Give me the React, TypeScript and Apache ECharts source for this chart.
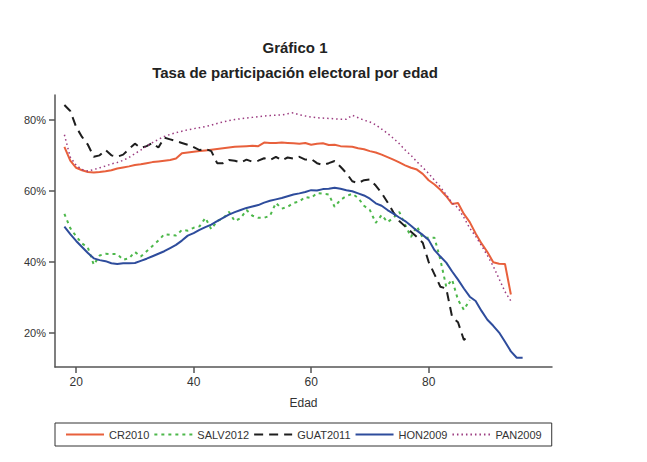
import React, { useEffect, useRef } from 'react';
import * as echarts from 'echarts';

// tasas por edad, desde los 18 años (un valor por año)
const START_AGE = 18;

const cr2010 = [
  72.4, 68.5, 66.5, 65.8, 65.3, 65.2, 65.3, 65.5, 65.8, 66.3,
  66.6, 66.9, 67.3, 67.5, 67.8, 68.1, 68.3, 68.5, 68.7, 69.1,
  70.6, 70.8, 71.0, 71.2, 71.4, 71.6, 71.8, 72.0, 72.2, 72.4,
  72.5, 72.6, 72.7, 72.6, 73.6, 73.5, 73.5, 73.6, 73.5, 73.4,
  73.3, 73.5, 73.0, 73.3, 73.4, 72.9, 73.0, 72.6, 72.5, 72.4,
  72.0, 71.7, 71.2, 70.8, 70.2, 69.5, 68.8, 68.0, 67.2, 66.5,
  66.0, 64.8, 63.0, 61.8, 60.3, 58.5, 56.3, 56.6, 53.5, 51.2,
  48.0, 45.2, 42.8, 39.9, 39.5, 39.4, 30.8,
];

const salv2012 = [
  53.5, 49.5, 47.2, 45.2, 44.0, 39.2, 41.8, 42.3, 42.2, 42.2,
  40.6, 41.0, 42.8, 41.5, 43.0, 44.5, 46.0, 47.8, 47.6, 47.4,
  49.0, 48.8, 49.6, 50.0, 52.4, 49.2, 51.5, 52.2, 54.1, 51.5,
  52.3, 54.6, 53.0, 52.4, 52.4, 53.0, 56.6, 55.0, 55.5, 56.6,
  57.0, 58.3, 58.0, 59.4, 59.2, 59.0, 55.5, 57.5, 58.5, 59.2,
  58.0, 55.8, 54.6, 51.0, 53.2, 51.2, 52.4, 54.1, 50.5, 47.0,
  50.0, 46.8, 46.8, 46.8, 40.6, 33.0, 35.0, 29.3, 26.5, 29.3,
];

const guat2011 = [
  84.2, 82.5, 78.0, 75.2, 73.0, 69.6, 70.0, 71.5, 70.0, 69.6,
  70.2, 71.8, 73.3, 72.1, 72.6, 73.5, 72.2, 75.0, 74.5, 74.0,
  73.5, 73.0, 72.3, 71.5, 71.8, 71.2, 67.8, 67.8, 68.7, 68.5,
  68.0, 68.8, 68.2, 68.5, 69.2, 68.7, 69.6, 68.6, 69.4, 69.1,
  69.6, 68.8, 69.0, 67.8, 67.3, 67.8, 68.4, 66.8, 65.0, 62.7,
  62.2, 63.0, 63.2, 61.5, 59.4, 56.8, 54.0, 51.5, 50.0, 48.5,
  47.0, 45.4, 40.0, 36.5, 33.0, 32.5, 24.5, 23.0, 18.0, 19.4,
];

const hon2009 = [
  49.9, 47.8, 45.9, 44.2, 42.5, 41.0, 40.5, 40.2, 39.6, 39.4,
  39.6, 39.6, 39.7, 40.3, 40.9, 41.6, 42.3, 43.0, 43.9, 44.8,
  46.0, 47.4, 48.1, 49.0, 49.8, 50.5, 51.5, 52.4, 53.3, 54.0,
  54.6, 55.2, 55.6, 56.0, 56.7, 57.2, 57.6, 58.0, 58.5, 59.0,
  59.3, 59.7, 60.2, 60.1, 60.5, 60.6, 60.9, 60.6, 60.2, 59.9,
  59.3, 58.7, 57.8, 56.5, 55.8, 54.6, 53.6, 52.5, 51.5, 50.2,
  48.8, 47.6, 46.2, 43.3, 41.5, 39.8, 37.3, 35.0, 32.5, 30.2,
  29.0, 26.2, 23.7, 22.0, 20.1, 17.5, 14.8, 13.0, 13.0,
];

const pan2009 = [
  75.8, 69.5, 67.2, 66.0, 65.6, 66.0, 66.5, 67.0, 67.6, 68.0,
  68.6, 69.4, 70.5, 71.5, 72.6, 73.6, 74.5, 75.3, 75.9, 76.4,
  76.8, 77.2, 77.5, 77.8, 78.1, 78.5, 79.0, 79.4, 79.8, 80.1,
  80.3, 80.5, 80.7, 80.9, 81.1, 81.2, 81.3, 81.4, 81.7, 82.0,
  81.4, 81.1, 80.8, 80.6, 80.5, 80.4, 80.3, 80.2, 80.2, 81.3,
  80.6, 79.9, 79.4, 78.6, 77.4, 76.2, 74.8, 73.3, 71.5, 70.0,
  68.2, 66.6, 64.9, 63.0, 61.1, 58.9, 56.6, 55.2, 52.5, 49.5,
  47.2, 44.6, 41.8, 38.8, 35.2, 31.6, 29.0,
];

const xTicks = [20, 40, 60, 80];
const yTicks = [20, 40, 60, 80];

const toPoints = (values: number[]) => values.map((v, i) => [START_AGE + i, v]);

const font = 'Liberation Sans';

const App: React.FC = () => {
  const chartRef = useRef<HTMLDivElement>(null);

  useEffect(() => {
    if (!chartRef.current) return undefined;
    const chart = echarts.init(chartRef.current, undefined, { renderer: 'svg' });

    const line = (name: string, data: number[], color: string, type: any, width: number) => ({
      name,
      type: 'line',
      data: toPoints(data),
      showSymbol: false,
      symbol: 'none',
      lineStyle: { color, type, width },
      itemStyle: { color },
    });

    chart.setOption({
      animation: false,
      textStyle: { fontFamily: font },
      title: [
        {
          text: 'Gráfico 1',
          left: 290,
          top: 35,
          textAlign: 'center',
          textStyle: { fontFamily: font, fontSize: 15, fontWeight: 'bold', color: '#222' },
        },
        {
          text: 'Tasa de participación electoral por edad',
          left: 290,
          top: 60,
          textAlign: 'center',
          textStyle: { fontFamily: font, fontSize: 15, fontWeight: 'bold', color: '#222' },
        },
      ],
      grid: { left: 55, right: 95, top: 95, bottom: 95 },
      xAxis: {
        type: 'value',
        min: 16.4,
        max: 101,
        name: 'Edad',
        nameLocation: 'middle',
        nameGap: 30,
        nameTextStyle: { fontFamily: font, fontSize: 12, color: '#333' },
        splitLine: { show: false },
        axisLine: { lineStyle: { color: '#555', width: 1.5 } },
        axisTick: { customValues: xTicks, length: 6, lineStyle: { color: '#555', width: 1.5 } },
        axisLabel: { customValues: xTicks, margin: 9, fontSize: 12, color: '#333' },
      },
      yAxis: {
        type: 'value',
        min: 10.4,
        max: 87,
        splitLine: { show: false },
        axisLine: { show: true, lineStyle: { color: '#555', width: 1.5 } },
        axisTick: { show: true, customValues: yTicks, length: 6, lineStyle: { color: '#555', width: 1.5 } },
        axisLabel: { customValues: yTicks, margin: 9, fontSize: 11, color: '#333', formatter: '{value}%' },
      },
      legend: {
        left: 55,
        top: 423,
        padding: [6, 10],
        itemGap: 4,
        itemWidth: 38,
        itemHeight: 10,
        borderColor: '#333',
        borderWidth: 1,
        itemStyle: { opacity: 0 },
        textStyle: { fontFamily: font, fontSize: 11, color: '#333' },
        data: ['CR2010', 'SALV2012', 'GUAT2011', 'HON2009', 'PAN2009'],
      },
      series: [
        line('CR2010', cr2010, '#E8603C', 'solid', 2),
        line('SALV2012', salv2012, '#4DB84B', [3, 4], 2),
        line('GUAT2011', guat2011, '#1E1E1E', [9, 6], 2),
        line('HON2009', hon2009, '#2E4C9C', 'solid', 2),
        line('PAN2009', pan2009, '#9C3C80', [1.5, 3], 1.5),
      ],
    });

    return () => chart.dispose();
  }, []);

  return (
    <div
      ref={chartRef}
      style={{ position: 'absolute', left: 0, top: 0, width: '647px', height: '462px', background: '#fff' }}
    />
  );
};

export default App;
